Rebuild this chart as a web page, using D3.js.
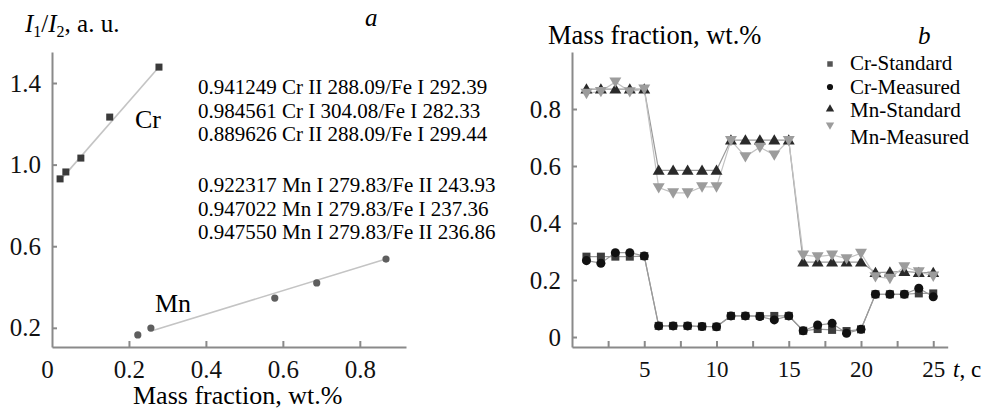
<!DOCTYPE html>
<html>
<head>
<meta charset="utf-8">
<script src="https://cdn.jsdelivr.net/npm/d3@7"></script>
<style>
  html, body { margin: 0; padding: 0; background: #fff; }
  svg { display: block; font-family: "Liberation Serif", "Times New Roman", serif; }
  .axis path, .axis line { stroke: #8a8a8a; stroke-width: 2; }
  .axis text { fill: #111; font-family: "Liberation Serif", "Times New Roman", serif; }
</style>
</head>
<body>
<svg id="chart" width="992" height="412"></svg>
<script>
// ── panel a: calibration points ──
const crX = [0.021, 0.036, 0.075, 0.150, 0.278];
const crY = [0.930, 0.964, 1.032, 1.233, 1.478];
const mnX = [0.223, 0.257, 0.579, 0.688, 0.868];
const mnY = [0.165, 0.199, 0.346, 0.420, 0.537];
const crFitX = [0.029, 0.278];
const crFitY = [0.940, 1.478];
const mnFitX = [0.260, 0.868];
const mnFitY = [0.186, 0.537];
const aXTicks = [0, 0.2, 0.4, 0.6, 0.8];
const aYTicks = [0.2, 0.6, 1.0, 1.4];
const crNotes = ['0.941249 Cr II 288.09/Fe I 292.39', '0.984561 Cr I 304.08/Fe I 282.33', '0.889626 Cr II 288.09/Fe I 299.44'];
const mnNotes = ['0.922317 Mn I 279.83/Fe II 243.93', '0.947022 Mn I 279.83/Fe I 237.36', '0.947550 Mn I 279.83/Fe II 236.86'];

// ── panel b: time series ──
const tSec = [1, 2, 3, 4, 5, 6, 7, 8, 9, 10, 11, 12, 13, 14, 15, 16, 17, 18, 19, 20, 21, 22, 23, 24, 25];
const crStd  = [0.282, 0.282, 0.282, 0.282, 0.284, 0.039, 0.039, 0.039, 0.037, 0.036, 0.074, 0.074, 0.074, 0.074, 0.074, 0.022, 0.028, 0.025, 0.021, 0.027, 0.150, 0.150, 0.150, 0.153, 0.153];
const crMeas = [0.268, 0.259, 0.296, 0.296, 0.284, 0.039, 0.039, 0.039, 0.037, 0.036, 0.074, 0.074, 0.072, 0.060, 0.074, 0.022, 0.042, 0.048, 0.013, 0.027, 0.150, 0.150, 0.150, 0.171, 0.141];
const mnStd  = [0.870, 0.870, 0.870, 0.870, 0.870, 0.585, 0.585, 0.585, 0.585, 0.585, 0.691, 0.691, 0.691, 0.691, 0.691, 0.263, 0.263, 0.263, 0.263, 0.263, 0.226, 0.228, 0.230, 0.226, 0.226];
const mnMeas = [0.855, 0.862, 0.895, 0.861, 0.870, 0.524, 0.506, 0.506, 0.527, 0.527, 0.690, 0.633, 0.666, 0.639, 0.690, 0.288, 0.282, 0.288, 0.275, 0.294, 0.212, 0.206, 0.247, 0.229, 0.214];
const bXTicks = [2.5, 5, 7.5, 10, 12.5, 15, 17.5, 20, 22.5, 25];
const bXLabels = [5, 10, 15, 20, 25];
const bYTicks = [0, 0.2, 0.4, 0.6, 0.8];
const seriesNames = ['Cr-Standard', 'Cr-Measured', 'Mn-Standard', 'Mn-Measured'];

const svg = d3.select('#chart');
const fmt = d => d === 0 ? '0' : d3.format('.1f')(d);

// ─────────────── panel a ───────────────
const xa = d3.scaleLinear().domain([0, 0.92]).range([52, 406]);
const ya = d3.scaleLinear().domain([0.106, 1.552]).range([347, 52]);

svg.append('g').attr('class', 'axis')
  .attr('transform', 'translate(52,0)')
  .call(d3.axisLeft(ya).tickValues(aYTicks).tickSizeInner(-5).tickSizeOuter(0).tickPadding(11).tickFormat(fmt))
  .call(g => g.selectAll('text').attr('font-size', 25));

svg.append('g').attr('class', 'axis')
  .attr('transform', 'translate(0,347)')
  .call(d3.axisBottom(xa).tickValues(aXTicks).tickSizeInner(-6).tickSizeOuter(0).tickPadding(13).tickFormat(fmt))
  .call(g => g.selectAll('text').attr('font-size', 25))
  .call(g => g.selectAll('.tick').filter(d => d === 0).select('text').attr('dx', -5))
  .call(g => g.selectAll('.tick').filter(d => d === 0).select('line').remove());

const line = d3.line().x(d => xa(d[0])).y(d => ya(d[1]));
svg.append('path').attr('d', line(d3.zip(crFitX, crFitY)))
  .attr('fill', 'none').attr('stroke', '#c4c4c4').attr('stroke-width', 1.6);
svg.append('path').attr('d', line(d3.zip(mnFitX, mnFitY)))
  .attr('fill', 'none').attr('stroke', '#c4c4c4').attr('stroke-width', 1.6);

svg.append('g').selectAll('rect').data(d3.zip(crX, crY)).join('rect')
  .attr('x', d => xa(d[0]) - 3.5).attr('y', d => ya(d[1]) - 3.5)
  .attr('width', 7).attr('height', 7).attr('fill', '#3a3a3a');
svg.append('g').selectAll('circle').data(d3.zip(mnX, mnY)).join('circle')
  .attr('cx', d => xa(d[0])).attr('cy', d => ya(d[1]))
  .attr('r', 3.6).attr('fill', '#5e5e5e');

svg.append('text').attr('x', 135).attr('y', 128).attr('font-size', 26).text('Cr');
svg.append('text').attr('x', 155).attr('y', 312).attr('font-size', 26).text('Mn');

const yTitle = svg.append('text').attr('x', 25).attr('y', 32).attr('font-size', 25);
yTitle.append('tspan').attr('font-style', 'italic').text('I');
yTitle.append('tspan').attr('font-size', 16).attr('dy', 5).text('1');
yTitle.append('tspan').attr('dy', -5).text('/');
yTitle.append('tspan').attr('font-style', 'italic').text('I');
yTitle.append('tspan').attr('font-size', 16).attr('dy', 5).text('2');
yTitle.append('tspan').attr('dy', -5).text(', a. u.');

svg.append('text').attr('x', 133).attr('y', 404).attr('font-size', 26).text('Mass fraction, wt.%');
svg.append('text').attr('x', 365).attr('y', 26).attr('font-size', 25).attr('font-style', 'italic').text('a');

svg.append('g').selectAll('text').data(crNotes).join('text')
  .attr('x', 198).attr('y', (d, i) => 94 + i * 23.5)
  .attr('font-size', 21).text(d => d);
svg.append('g').selectAll('text').data(mnNotes).join('text')
  .attr('x', 198).attr('y', (d, i) => 192 + i * 23.5)
  .attr('font-size', 21).text(d => d);

// ─────────────── panel b ───────────────
const xb = d3.scaleLinear().domain([0, 26]).range([572, 947.7]);
const yb = d3.scaleLinear().domain([-0.035, 1.0]).range([347, 52]);

svg.append('g').attr('class', 'axis')
  .attr('transform', 'translate(572,0)')
  .call(d3.axisLeft(yb).tickValues(bYTicks).tickSizeInner(-5).tickSizeOuter(0).tickPadding(11).tickFormat(fmt))
  .call(g => g.selectAll('text').attr('font-size', 25));

svg.append('g').attr('class', 'axis')
  .attr('transform', 'translate(0,347)')
  .call(d3.axisBottom(xb).tickValues(bXTicks).tickSizeInner(-6).tickSizeOuter(0).tickPadding(14)
    .tickFormat(d => bXLabels.includes(d) ? d : ''))
  .call(g => g.selectAll('text').attr('font-size', 23));

const tLabel = svg.append('text').attr('x', 953).attr('y', 377).attr('font-size', 23);
tLabel.append('tspan').attr('font-style', 'italic').text('t');
tLabel.append('tspan').text(', c');

svg.append('text').attr('x', 548).attr('y', 44).attr('font-size', 26.5).text('Mass fraction, wt.%');
svg.append('text').attr('x', 918).attr('y', 44).attr('font-size', 25).attr('font-style', 'italic').text('b');

const series = [
  { name: seriesNames[0], vals: crStd,  line: '#9a9a9a', fill: '#3c3c3c', shape: 'square' },
  { name: seriesNames[1], vals: crMeas, line: '#9a9a9a', fill: '#111',    shape: 'circle' },
  { name: seriesNames[2], vals: mnStd,  line: '#9a9a9a', fill: '#2a2a2a', shape: 'up' },
  { name: seriesNames[3], vals: mnMeas, line: '#c2c2c2', fill: '#9c9c9c', shape: 'down' }
];

const symType = { square: d3.symbolSquare, circle: d3.symbolCircle, up: d3.symbolTriangle, down: d3.symbolTriangle };
const symSize = { square: 64, circle: 64, up: 62, down: 62 };

const lineB = d3.line().x((d, i) => xb(tSec[i])).y(d => yb(d));
series.forEach(s => {
  svg.append('path').attr('d', lineB(s.vals))
    .attr('fill', 'none').attr('stroke', s.line).attr('stroke-width', 1.2);
});
series.forEach(s => {
  svg.append('g').selectAll('path').data(s.vals).join('path')
    .attr('d', d3.symbol(symType[s.shape], symSize[s.shape]))
    .attr('transform', (d, i) => `translate(${xb(tSec[i])},${yb(d) + (s.shape === 'up' ? 1 : s.shape === 'down' ? -1 : 0)})` + (s.shape === 'down' ? ' rotate(180)' : ''))
    .attr('fill', s.fill);
});

// legend
const legend = svg.append('g');
const legY = [64, 87, 109, 125];
const legTextY = [70, 94, 117, 144];
series.forEach((s, i) => {
  legend.append('path')
    .attr('d', d3.symbol(symType[s.shape], 30))
    .attr('transform', `translate(830,${legY[i]})` + (s.shape === 'down' ? ' rotate(180)' : ''))
    .attr('fill', s.shape === 'square' ? '#555' : s.fill);
  legend.append('text').attr('x', 850).attr('y', legTextY[i]).attr('font-size', 21).text(s.name);
});
</script>
</body>
</html>
